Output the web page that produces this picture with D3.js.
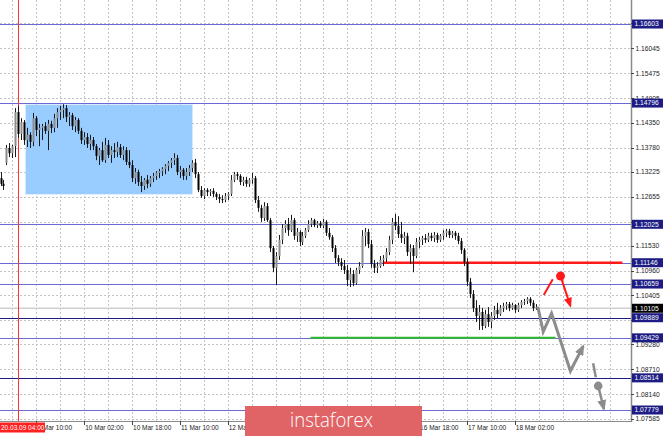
<!DOCTYPE html>
<html><head><meta charset="utf-8">
<script src="https://cdn.jsdelivr.net/npm/d3@7"></script>
<style>body{margin:0;background:#fff}svg{display:block}</style>
</head><body><svg id="c" width="665" height="436"></svg>
<script>
// H1 candles, index 0 = 6 Mar 22:00, 2 = 9 Mar 00:00
const openP = [1.1308,1.1295,1.1343,1.1377,1.1365,1.1381,1.1459,1.1409,1.1436,1.1395,
1.1407,1.1391,1.1445,1.1418,1.1423,1.1427,1.1416,1.1432,1.1423,1.1445,
1.1459,1.1464,1.1468,1.1448,1.1452,1.1427,1.1441,1.1416,1.1395,1.1402,
1.1386,1.1395,1.1381,1.1359,1.1372,1.1349,1.1384,1.1361,1.1372,1.1368,
1.1379,1.1361,1.1372,1.1345,1.1338,1.1308,1.1322,1.1299,1.1290,1.1304,
1.1295,1.1308,1.1313,1.1320,1.1324,1.1329,1.1336,1.1343,1.1349,1.1354,
1.1322,1.1327,1.1313,1.1322,1.1331,1.1343,1.1317,1.1281,1.1267,1.1281,
1.1276,1.1279,1.1272,1.1265,1.1260,1.1258,1.1267,1.1272,1.1304,1.1317,
1.1313,1.1299,1.1304,1.1295,1.1304,1.1308,1.1258,1.1240,1.1217,1.1244,
1.1212,1.1148,1.1103,1.1130,1.1167,1.1194,1.1203,1.1189,1.1212,1.1176,
1.1185,1.1162,1.1176,1.1189,1.1203,1.1212,1.1201,1.1205,1.1199,1.1208,
1.1183,1.1173,1.1148,1.1125,1.1116,1.1107,1.1098,1.1075,1.1089,1.1068,
1.1098,1.1107,1.1176,1.1185,1.1157,1.1112,1.1103,1.1107,1.1121,1.1125,
1.1139,1.1167,1.1208,1.1199,1.1180,1.1171,1.1176,1.1139,1.1148,1.1130,
1.1162,1.1167,1.1171,1.1167,1.1176,1.1171,1.1178,1.1167,1.1176,1.1183,
1.1187,1.1178,1.1183,1.1176,1.1164,1.1144,1.1116,1.1071,1.1043,1.1011,
1.0993,1.1002,1.0970,1.0997,1.0979,1.0993,1.1007,1.0997,1.1011,1.1016,
1.1020,1.1011,1.1018,1.1007,1.1018,1.1025,1.1027,1.1032,1.1023,1.1011];
const highP = [1.1322,1.1304,1.1384,1.1388,1.1384,1.1468,1.1473,1.1445,1.1441,1.1423,
1.1413,1.1457,1.1450,1.1432,1.1432,1.1436,1.1441,1.1439,1.1455,1.1468,
1.1473,1.1477,1.1475,1.1459,1.1457,1.1448,1.1445,1.1423,1.1413,1.1411,
1.1407,1.1402,1.1386,1.1377,1.1391,1.1400,1.1395,1.1381,1.1388,1.1391,
1.1386,1.1381,1.1379,1.1372,1.1349,1.1331,1.1327,1.1313,1.1308,1.1315,
1.1313,1.1320,1.1324,1.1329,1.1333,1.1340,1.1347,1.1354,1.1365,1.1361,
1.1336,1.1331,1.1331,1.1338,1.1349,1.1352,1.1322,1.1290,1.1285,1.1285,
1.1283,1.1285,1.1276,1.1272,1.1269,1.1274,1.1276,1.1315,1.1322,1.1322,
1.1317,1.1311,1.1311,1.1308,1.1320,1.1313,1.1267,1.1247,1.1253,1.1251,
1.1217,1.1153,1.1139,1.1178,1.1203,1.1212,1.1217,1.1224,1.1217,1.1194,
1.1189,1.1185,1.1194,1.1212,1.1217,1.1215,1.1210,1.1210,1.1215,1.1212,
1.1194,1.1178,1.1155,1.1132,1.1125,1.1121,1.1109,1.1103,1.1098,1.1103,
1.1116,1.1189,1.1194,1.1192,1.1167,1.1121,1.1116,1.1130,1.1132,1.1148,
1.1176,1.1217,1.1226,1.1221,1.1208,1.1185,1.1183,1.1157,1.1155,1.1171,
1.1173,1.1176,1.1180,1.1183,1.1183,1.1185,1.1183,1.1180,1.1189,1.1192,
1.1192,1.1187,1.1187,1.1183,1.1171,1.1148,1.1125,1.1080,1.1052,1.1029,
1.1018,1.1011,1.1007,1.1013,1.1002,1.1016,1.1023,1.1018,1.1023,1.1025,
1.1025,1.1023,1.1020,1.1023,1.1029,1.1032,1.1036,1.1036,1.1029,1.1020];
const lowP = [1.1290,1.1281,1.1338,1.1356,1.1354,1.1356,1.1400,1.1395,1.1384,1.1379,
1.1377,1.1381,1.1404,1.1381,1.1395,1.1409,1.1372,1.1411,1.1413,1.1423,
1.1441,1.1445,1.1436,1.1427,1.1418,1.1413,1.1409,1.1386,1.1384,1.1377,
1.1372,1.1372,1.1349,1.1338,1.1345,1.1343,1.1354,1.1343,1.1354,1.1356,
1.1354,1.1349,1.1338,1.1331,1.1299,1.1295,1.1290,1.1276,1.1281,1.1285,
1.1288,1.1299,1.1304,1.1308,1.1313,1.1317,1.1324,1.1331,1.1338,1.1315,
1.1308,1.1304,1.1304,1.1313,1.1322,1.1308,1.1276,1.1263,1.1260,1.1267,
1.1267,1.1265,1.1258,1.1251,1.1251,1.1253,1.1258,1.1267,1.1299,1.1304,
1.1292,1.1290,1.1288,1.1288,1.1295,1.1251,1.1231,1.1208,1.1210,1.1208,
1.1139,1.1093,1.1064,1.1121,1.1157,1.1183,1.1176,1.1185,1.1167,1.1162,
1.1153,1.1155,1.1171,1.1185,1.1196,1.1196,1.1194,1.1194,1.1194,1.1176,
1.1167,1.1139,1.1114,1.1107,1.1098,1.1089,1.1061,1.1059,1.1061,1.1064,
1.1089,1.1103,1.1153,1.1148,1.1103,1.1091,1.1091,1.1103,1.1107,1.1116,
1.1132,1.1157,1.1189,1.1171,1.1160,1.1157,1.1130,1.1112,1.1093,1.1125,
1.1148,1.1155,1.1160,1.1162,1.1164,1.1162,1.1160,1.1162,1.1167,1.1173,
1.1171,1.1171,1.1167,1.1157,1.1135,1.1107,1.1061,1.1034,1.1002,1.0979,
1.0961,1.0961,1.0965,1.0968,1.0965,1.0984,1.0988,1.0993,1.1002,1.1007,
1.1004,1.1007,1.1000,1.1002,1.1011,1.1018,1.1020,1.1016,1.1004,1.1007];
const closeP = [1.1295,1.1290,1.1377,1.1365,1.1381,1.1459,1.1409,1.1436,1.1395,1.1407,
1.1391,1.1445,1.1418,1.1423,1.1427,1.1416,1.1432,1.1423,1.1445,1.1459,
1.1464,1.1468,1.1448,1.1452,1.1427,1.1441,1.1416,1.1395,1.1402,1.1386,
1.1395,1.1381,1.1359,1.1372,1.1349,1.1384,1.1361,1.1372,1.1368,1.1379,
1.1361,1.1372,1.1345,1.1338,1.1308,1.1322,1.1299,1.1290,1.1304,1.1295,
1.1308,1.1313,1.1320,1.1324,1.1329,1.1336,1.1343,1.1349,1.1354,1.1322,
1.1327,1.1313,1.1322,1.1331,1.1343,1.1317,1.1281,1.1267,1.1281,1.1276,
1.1279,1.1272,1.1265,1.1260,1.1258,1.1267,1.1272,1.1304,1.1317,1.1313,
1.1299,1.1304,1.1295,1.1304,1.1308,1.1258,1.1240,1.1217,1.1244,1.1212,
1.1148,1.1103,1.1130,1.1167,1.1194,1.1203,1.1189,1.1212,1.1176,1.1185,
1.1162,1.1176,1.1189,1.1203,1.1212,1.1201,1.1205,1.1199,1.1208,1.1183,
1.1173,1.1148,1.1125,1.1116,1.1107,1.1098,1.1075,1.1089,1.1068,1.1098,
1.1107,1.1176,1.1185,1.1157,1.1112,1.1103,1.1107,1.1121,1.1125,1.1139,
1.1167,1.1208,1.1199,1.1180,1.1171,1.1176,1.1139,1.1148,1.1130,1.1162,
1.1167,1.1171,1.1167,1.1176,1.1171,1.1178,1.1167,1.1176,1.1183,1.1187,
1.1178,1.1183,1.1176,1.1164,1.1144,1.1116,1.1071,1.1043,1.1011,1.0993,
1.1002,1.0970,1.0997,1.0979,1.0993,1.1007,1.0997,1.1011,1.1016,1.1020,
1.1011,1.1018,1.1007,1.1018,1.1025,1.1027,1.1032,1.1023,1.1011,1.1013];

const timeTickIdx = [12,28,44,60,76,92,108,124,140,156,172];
const timeTickLabels = ["9 Mar 10:00","10 Mar 02:00","10 Mar 18:00","11 Mar 10:00","12 Mar 02:00","12 Mar 18:00","13 Mar 10:00","16 Mar 02:00","16 Mar 18:00","17 Mar 10:00","18 Mar 02:00"];
const priceTicks = [1.16615,1.16045,1.15475,1.14905,1.14350,1.13780,1.13225,1.12655,1.12085,1.11530,1.10960,1.10405,1.09835,1.09280,1.08710,1.08140,1.07585];
const levelPrices = [1.16603,1.14796,1.12025,1.11146,1.10659,1.09889,1.09429,1.08514,1.07779];
const levelDark   = [0,0,0,0,0,1,0,1,0];
const bidPrice = 1.10105;
const cursorIdx = 6;
const cursorLabel = "20.03.09 04:00";
const zoneIdx = [8.4, 64.2];
const zonePrice = [1.1476, 1.1271];
const redLevel = {price:1.11146, from:127.8, to:208};
const greenLevel = {price:1.09429, from:103.7, to:185.6};
const grayPathIdx   = [179.7,181.5,184.3,190.6,194.9];
const grayPathPrice = [1.1014,1.0957,1.0999,1.0867,1.0924];
const grayDashIdx   = [198.2,199.1];
const grayDashPrice = [1.0885,1.0853];
const grayArrowIdx   = [199.9,201.8];
const grayArrowPrice = [1.0833,1.0780];
const redLineIdx   = [181.7,184.7];
const redLinePrice = [1.1041,1.1077];
const redArrowIdx   = [187.3,190.6];
const redArrowPrice = [1.1084,1.1016];

const svg = d3.select("#c");
const plotR = 631, plotB = 421;
const x = d3.scaleLinear().domain([0,211]).range([0.5,631.4]);
const y = d3.scaleLinear().domain([1.07528,1.17152]).range([plotB,0]);
const banner = {x0:245, x1:422, y0:406};

// grid
const g = svg.append("g");
const vGrid = d3.range(4, 211, 8);
g.selectAll("line.vg").data(vGrid).join("line")
  .attr("x1",d=>Math.round(x(d))+0.5).attr("x2",d=>Math.round(x(d))+0.5)
  .attr("y1",0).attr("y2",plotB)
  .attr("stroke","#c4c4c4").attr("stroke-dasharray","2,2");
g.selectAll("line.hg").data(priceTicks).join("line")
  .attr("x1",0).attr("x2",plotR)
  .attr("y1",d=>Math.round(y(d))+0.5).attr("y2",d=>Math.round(y(d))+0.5)
  .attr("stroke","#c4c4c4").attr("stroke-dasharray","2,2");

// zone
svg.append("rect").attr("x",x(zoneIdx[0])).attr("width",x(zoneIdx[1])-x(zoneIdx[0]))
  .attr("y",y(zonePrice[0])).attr("height",y(zonePrice[1])-y(zonePrice[0]))
  .attr("fill","#99ccff");

// bid line
svg.append("line").attr("x1",0).attr("x2",plotR).attr("y1",y(bidPrice)).attr("y2",y(bidPrice))
  .attr("stroke","#cfcfcf").attr("stroke-width",1.5);

// levels
svg.selectAll("line.lvl").data(levelPrices).join("line")
  .attr("x1",0).attr("x2",plotR)
  .attr("y1",d=>Math.round(y(d))+0.5).attr("y2",d=>Math.round(y(d))+0.5)
  .attr("stroke",(d,i)=>levelDark[i]?"#1c1c80":"#6a6ad0").attr("stroke-width",1.2);

// cursor line
svg.append("line").attr("x1",Math.round(x(cursorIdx))+0.5).attr("x2",Math.round(x(cursorIdx))+0.5)
  .attr("y1",0).attr("y2",plotB).attr("stroke","#ff3030").attr("stroke-width",1);

// red / green levels
svg.append("line").attr("x1",x(redLevel.from)).attr("x2",x(redLevel.to))
  .attr("y1",y(redLevel.price)).attr("y2",y(redLevel.price)).attr("stroke","#ff1a1a").attr("stroke-width",2.5);
svg.append("line").attr("x1",x(greenLevel.from)).attr("x2",x(greenLevel.to))
  .attr("y1",y(greenLevel.price)).attr("y2",y(greenLevel.price)).attr("stroke","#2dbb2d").attr("stroke-width",2);

// candles
const idx = d3.range(closeP.length);
const cg = svg.append("g");
cg.selectAll("line.w").data(idx).join("line")
  .attr("x1",i=>Math.round(x(i))+0.5).attr("x2",i=>Math.round(x(i))+0.5)
  .attr("y1",i=>y(highP[i])).attr("y2",i=>y(lowP[i]))
  .attr("stroke","#1a1a1a").attr("stroke-width",1);
cg.selectAll("rect.b").data(idx).join("rect")
  .attr("x",i=>Math.round(x(i))-0.5).attr("width",2)
  .attr("y",i=>y(Math.max(openP[i],closeP[i])))
  .attr("height",i=>Math.max(1,Math.abs(y(openP[i])-y(closeP[i]))))
  .attr("fill",i=>closeP[i]>=openP[i]?"#8c8c8c":"#000");

// markers
const defs = svg.append("defs");
function mk(id,col,len,wid){
  defs.append("marker").attr("id",id).attr("viewBox",`0 0 ${len} ${wid}`)
    .attr("markerWidth",len).attr("markerHeight",wid).attr("markerUnits","userSpaceOnUse")
    .attr("refX",len-2).attr("refY",wid/2).attr("orient","auto")
    .append("path").attr("d",`M0,0L${len},${wid/2}L0,${wid}Z`).attr("fill",col);
}
mk("ag","#8c8c8c",11,9);
mk("ar","#ff1a1a",10,8);
const line = d3.line();
const pts = (xi,pi)=>xi.map((v,i)=>[x(v),y(pi[i])]);
svg.append("path").attr("d",line(pts(grayPathIdx,grayPathPrice))).attr("fill","none")
  .attr("stroke","#8c8c8c").attr("stroke-width",3).attr("stroke-linejoin","miter").attr("marker-end","url(#ag)");
svg.append("path").attr("d",line(pts(grayDashIdx,grayDashPrice))).attr("fill","none")
  .attr("stroke","#8c8c8c").attr("stroke-width",2.5);
svg.append("circle").attr("cx",x(grayArrowIdx[0])).attr("cy",y(grayArrowPrice[0])).attr("r",4.3).attr("fill","#8c8c8c");
svg.append("path").attr("d",line(pts(grayArrowIdx,grayArrowPrice))).attr("fill","none")
  .attr("stroke","#8c8c8c").attr("stroke-width",2.5).attr("marker-end","url(#ag)");
svg.append("path").attr("d",line(pts(redLineIdx,redLinePrice))).attr("fill","none")
  .attr("stroke","#ff1a1a").attr("stroke-width",2);
svg.append("circle").attr("cx",x(redArrowIdx[0])).attr("cy",y(redArrowPrice[0])).attr("r",4.5).attr("fill","#ff1a1a");
svg.append("path").attr("d",line(pts(redArrowIdx,redArrowPrice))).attr("fill","none")
  .attr("stroke","#ff1a1a").attr("stroke-width",2).attr("marker-end","url(#ar)");

// axes frame
svg.append("rect").attr("x",plotR).attr("y",0).attr("width",665-plotR).attr("height",436).attr("fill","#fff");
svg.append("rect").attr("x",0).attr("y",plotB).attr("width",665).attr("height",436-plotB).attr("fill","#fff");
svg.append("line").attr("x1",plotR+0.5).attr("x2",plotR+0.5).attr("y1",0).attr("y2",plotB+1).attr("stroke","#8a8a8a").attr("stroke-width",1.5);
svg.append("line").attr("x1",0).attr("x2",plotR).attr("y1",plotB+0.5).attr("y2",plotB+0.5).attr("stroke","#8a8a8a");

const font = "'Liberation Sans', Arial, sans-serif";
// price axis (labels hidden behind a level label box are not drawn)
const boxed = levelPrices.concat([bidPrice]);
const visibleTicks = priceTicks.filter(p => boxed.every(b => Math.abs(y(p)-y(b)) >= 4));
const pa = svg.append("g");
pa.selectAll("line").data(priceTicks).join("line")
  .attr("x1",plotR).attr("x2",plotR+3).attr("y1",d=>Math.round(y(d))+0.5).attr("y2",d=>Math.round(y(d))+0.5).attr("stroke","#444");
pa.selectAll("text").data(visibleTicks).join("text")
  .attr("x",plotR+4.5).attr("y",d=>y(d)+2.4).text(d=>d.toFixed(5))
  .attr("font-family",font).attr("font-size",6.7).attr("fill","#222");
// highlighted level labels
const hl = svg.append("g");
hl.selectAll("rect").data(levelPrices).join("rect")
  .attr("x",plotR+1).attr("width",31).attr("y",d=>y(d)-4.5).attr("height",9).attr("fill","#1c1c84");
hl.selectAll("text").data(levelPrices).join("text")
  .attr("x",plotR+3.5).attr("y",d=>y(d)+2.4).text(d=>d.toFixed(5))
  .attr("font-family",font).attr("font-size",6.7).attr("fill","#fff");
svg.append("rect").attr("x",plotR+1).attr("width",31).attr("y",y(bidPrice)-4.5).attr("height",9).attr("fill","#000");
svg.append("text").attr("x",plotR+3.5).attr("y",y(bidPrice)+2.4).text(bidPrice.toFixed(5))
  .attr("font-family",font).attr("font-size",6.7).attr("fill","#fff");

// time axis (labels fully hidden by the banner are not drawn)
const ta = svg.append("g");
ta.selectAll("line").data(timeTickIdx).join("line")
  .attr("x1",d=>Math.round(x(d))+0.5).attr("x2",d=>Math.round(x(d))+0.5).attr("y1",plotB).attr("y2",plotB+4).attr("stroke","#444");
const timeVis = timeTickIdx.map((d,i)=>({d,t:timeTickLabels[i]}))
  .filter(o => !(x(o.d) > banner.x0 && x(o.d)+38 < banner.x1));
ta.selectAll("text").data(timeVis).join("text")
  .attr("x",o=>x(o.d)+1).attr("y",430).text(o=>o.t)
  .attr("font-family",font).attr("font-size",6.5).attr("fill","#222");
svg.append("rect").attr("x",0).attr("y",plotB+1.5).attr("width",45).attr("height",10).attr("fill","#ff2020");
svg.append("text").attr("x",1).attr("y",430).text(cursorLabel)
  .attr("font-family",font).attr("font-size",6.5).attr("fill","#fff");

// banner
svg.append("rect").attr("x",banner.x0).attr("y",banner.y0).attr("width",banner.x1-banner.x0).attr("height",436-banner.y0).attr("fill","#e06466");
svg.append("text").attr("x",290).attr("y",427).text("instaforex")
  .attr("font-family","'Open Sans', sans-serif").attr("font-weight",300).attr("font-size",21)
  .attr("textLength",83).attr("lengthAdjust","spacingAndGlyphs").attr("fill","#fff");
</script></body></html>
